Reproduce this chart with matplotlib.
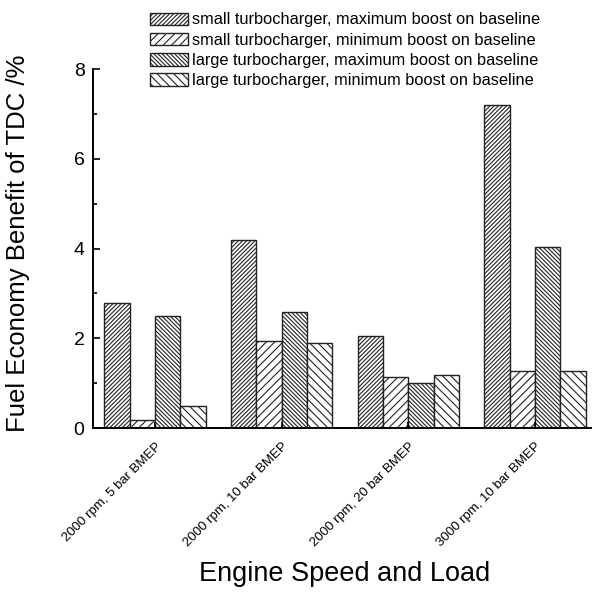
import numpy as np
import matplotlib
matplotlib.use("Agg")
import matplotlib.pyplot as plt

plt.rcParams['font.family'] = ['Liberation Sans', 'DejaVu Sans']
plt.rcParams['hatch.linewidth'] = 0.8
plt.rcParams['hatch.color'] = '#444444'

conditions = ["2000 rpm, 5 bar BMEP", "2000 rpm, 10 bar BMEP",
              "2000 rpm, 20 bar BMEP", "3000 rpm, 10 bar BMEP"]
series_names = ["small turbocharger, maximum boost on baseline",
                "small turbocharger, minimum boost on baseline",
                "large turbocharger, maximum boost on baseline",
                "large turbocharger, minimum boost on baseline"]
small_max = [2.78, 4.2, 2.06, 7.2]
small_min = [0.18, 1.93, 1.14, 1.28]
large_max = [2.49, 2.59, 1.01, 4.03]
large_min = [0.48, 1.9, 1.19, 1.28]
series = [small_max, small_min, large_max, large_min]
hatches = ['/' * 8, '/' * 4, '\\' * 8, '\\' * 4]

fig = plt.figure(figsize=(5.92, 5.92), dpi=100)
ax = fig.add_axes([0.157, 0.277, 0.843, 0.606])

x = np.arange(len(conditions))
width = 0.2
for i, vals in enumerate(series):
    ax.bar(x + (i - 1.5) * width, vals, width, facecolor='white',
           edgecolor='#222222', linewidth=1.0, hatch=hatches[i],
           label=series_names[i])

ax.set_xlim(-0.49, 3.45)
ax.set_ylim(0, 8)
ax.set_yticks([0, 2, 4, 6, 8])
ax.set_yticks([1, 3, 5, 7], minor=True)
ax.set_xticks(x)
ax.set_xticklabels(conditions, rotation=45, ha='right',
                   rotation_mode='anchor', fontsize=9.5)
ax.tick_params(axis='y', which='major', direction='in', length=5,
               width=1.2, labelsize=14, pad=6)
ax.tick_params(axis='y', which='minor', direction='in', length=3, width=1.2)
ax.tick_params(axis='x', which='major', direction='in', length=4,
               width=1.2, pad=9)
for side in ['top', 'right']:
    ax.spines[side].set_visible(False)
for side in ['left', 'bottom']:
    ax.spines[side].set_linewidth(1.4)

ax.set_ylabel("Fuel Economy Benefit of TDC /%", fontsize=18.5)
ax.yaxis.set_label_coords(-0.126, 0.515)
ax.set_xlabel("Engine Speed and Load", fontsize=19.5)
ax.xaxis.set_label_coords(0.505, -0.37)

handles, labels = ax.get_legend_handles_labels()
fig.legend(handles, labels, loc='upper left',
           bbox_to_anchor=(0.243, 0.99), frameon=False, fontsize=11.8,
           handlelength=2.3, handleheight=0.8, handletextpad=0.25,
           labelspacing=0.32, borderaxespad=0)

fig.savefig("out.png", dpi=100)
